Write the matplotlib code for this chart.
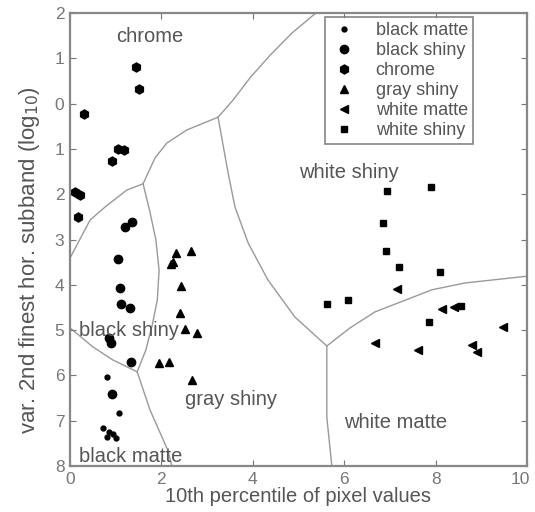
import matplotlib
matplotlib.use('Agg')
import matplotlib.pyplot as plt
import matplotlib.transforms as mtransforms
from matplotlib.ticker import FixedLocator, FixedFormatter

plt.rcParams['font.family'] = ['Liberation Sans', 'DejaVu Sans']

# --- measured points (x = 10th percentile, y = log10 variance) ---
black_matte_x = [0.80, 1.08, 0.72, 0.85, 0.95, 1.00, 0.82]
black_matte_y = [-6.03, -6.84, -7.15, -7.25, -7.30, -7.38, -7.35]

black_shiny_x = [1.20, 1.35, 1.04, 1.09, 1.11, 1.31, 0.86, 0.90, 1.33, 0.91]
black_shiny_y = [-2.72, -2.62, -3.44, -4.06, -4.42, -4.52, -5.18, -5.28, -5.70, -6.42]

chrome_x = [1.44, 1.52, 0.31, 1.06, 1.18, 0.93, 0.22, 0.18, 0.12]
chrome_y = [0.81, 0.32, -0.23, -1.01, -1.02, -1.26, -2.02, -2.50, -1.95]

gray_shiny_x = [2.64, 2.32, 2.26, 2.22, 2.42, 2.41, 2.52, 2.79, 1.95, 2.17, 2.66]
gray_shiny_y = [-3.25, -3.29, -3.49, -3.55, -4.03, -4.62, -4.98, -5.07, -5.73, -5.70, -6.10]

white_matte_x = [7.15, 6.67, 8.13, 8.40, 9.47, 7.62, 8.79, 8.90]
white_matte_y = [-4.10, -5.29, -4.54, -4.48, -4.94, -5.44, -5.33, -5.48]

white_shiny_x = [6.94, 6.86, 6.91, 7.20, 5.62, 6.09, 7.91, 8.10, 8.55, 7.86]
white_shiny_y = [-1.94, -2.64, -3.25, -3.60, -4.43, -4.34, -1.85, -3.71, -4.47, -4.81]

# --- decision boundaries ---
bnd_a_x = [0.00, 0.44, 0.77, 1.24, 1.60]
bnd_a_y = [-3.41, -2.57, -2.28, -1.91, -1.77]
bnd_b_x = [1.60, 1.86, 2.12, 2.56, 3.24]
bnd_b_y = [-1.77, -1.20, -0.87, -0.58, -0.30]
bnd_c_x = [3.24, 3.57, 3.94, 4.38, 4.86, 5.38]
bnd_c_y = [-0.30, 0.08, 0.57, 1.07, 1.56, 2.00]
bnd_d_x = [3.24, 3.33, 3.46, 3.61, 3.90, 4.33, 4.92, 5.62]
bnd_d_y = [-0.30, -0.80, -1.53, -2.28, -3.08, -3.89, -4.71, -5.35]
bnd_e_x = [5.62, 6.13, 6.67, 7.92, 8.64, 10.0]
bnd_e_y = [-5.35, -4.95, -4.60, -4.11, -3.96, -3.81]
bnd_f_x = [5.62, 5.62, 5.73]
bnd_f_y = [-5.35, -6.92, -8.00]
bnd_g_x = [1.60, 1.75, 1.88, 1.95, 1.91, 1.80, 1.66, 1.47]
bnd_g_y = [-1.77, -2.39, -3.01, -3.68, -4.34, -4.89, -5.44, -5.92]
bnd_h_x = [0.00, 0.50, 0.94, 1.47]
bnd_h_y = [-4.95, -5.37, -5.66, -5.92]
bnd_i_x = [1.47, 1.75, 2.14, 2.23]
bnd_i_y = [-5.92, -6.76, -7.65, -8.00]

region_names = ['chrome', 'white shiny', 'black shiny', 'gray shiny', 'white matte', 'black matte']
region_x = [1.75, 6.10, 0.20, 2.52, 6.00, 0.20]
region_y = [1.49, -1.51, -5.00, -6.54, -7.03, -7.80]
region_ha = ['center', 'center', 'left', 'left', 'left', 'left']

yticks = [2, 1, 0, -1, -2, -3, -4, -5, -6, -7, -8]
ytick_labels = ['2', '1', '0', '1', '2', '3', '4', '5', '6', '7', '8']
xticks = [0, 2, 4, 6, 8, 10]

txt = '#555555'
fig = plt.figure(figsize=(5.35, 5.12), dpi=100)
ax = fig.add_axes([0.1308, 0.0898, 0.8542, 0.8848])

for bx, by in [(bnd_a_x, bnd_a_y), (bnd_b_x, bnd_b_y), (bnd_c_x, bnd_c_y),
               (bnd_d_x, bnd_d_y), (bnd_e_x, bnd_e_y), (bnd_f_x, bnd_f_y),
               (bnd_g_x, bnd_g_y), (bnd_h_x, bnd_h_y), (bnd_i_x, bnd_i_y)]:
    ax.plot(bx, by, color='#999999', lw=1.0, zorder=1)

ax.plot(black_matte_x, black_matte_y, '.', color='k', ms=7, label='black matte', ls='none')
ax.plot(black_shiny_x, black_shiny_y, 'o', color='k', ms=6, label='black shiny', ls='none')
ax.plot(chrome_x, chrome_y, 'h', color='k', ms=6.5, label='chrome', ls='none')
ax.plot(gray_shiny_x, gray_shiny_y, '^', color='k', ms=6, label='gray shiny', ls='none')
ax.plot(white_matte_x, white_matte_y, '<', color='k', ms=6, label='white matte', ls='none')
ax.plot(white_shiny_x, white_shiny_y, 's', color='k', ms=5, label='white shiny', ls='none')

for name, rx, ry, ha in zip(region_names, region_x, region_y, region_ha):
    ax.text(rx, ry, name, ha=ha, va='center', fontsize=14.5, color=txt)

ax.set_xlim(0, 10)
ax.set_ylim(-8, 2)
ax.xaxis.set_major_locator(FixedLocator(xticks))
ax.yaxis.set_major_locator(FixedLocator(yticks))
ax.yaxis.set_major_formatter(FixedFormatter(ytick_labels))
ax.tick_params(direction='in', top=True, right=True, length=4, color='#777777',
               labelsize=12.5, labelcolor='#777777', pad=4)
for s in ax.spines.values():
    s.set_color('#888888')
    s.set_linewidth(1.6)

# keep the "10" label inside the figure
fig.canvas.draw()
shift = mtransforms.ScaledTranslation(-5 / 72, 0, fig.dpi_scale_trans)
last = ax.get_xticklabels()[-1]
last.set_transform(last.get_transform() + shift)

ax.set_xlabel('10th percentile of pixel values', fontsize=14.5, color=txt, labelpad=0)
ax.set_ylabel('var. 2nd finest hor. subband (log$_{10}$)', fontsize=16, color=txt)
ax.yaxis.set_label_coords(-0.062, 0.455)

leg = ax.legend(loc='upper left', bbox_to_anchor=(0.558, 0.991), fontsize=13,
                frameon=True, fancybox=False, edgecolor='#666666', labelspacing=0.16,
                handlelength=1.5, handletextpad=1.0, borderpad=0.3, borderaxespad=0)
leg.get_frame().set_linewidth(1.2)
for t in leg.get_texts():
    t.set_color(txt)

plt.savefig('out.png', dpi=100)
